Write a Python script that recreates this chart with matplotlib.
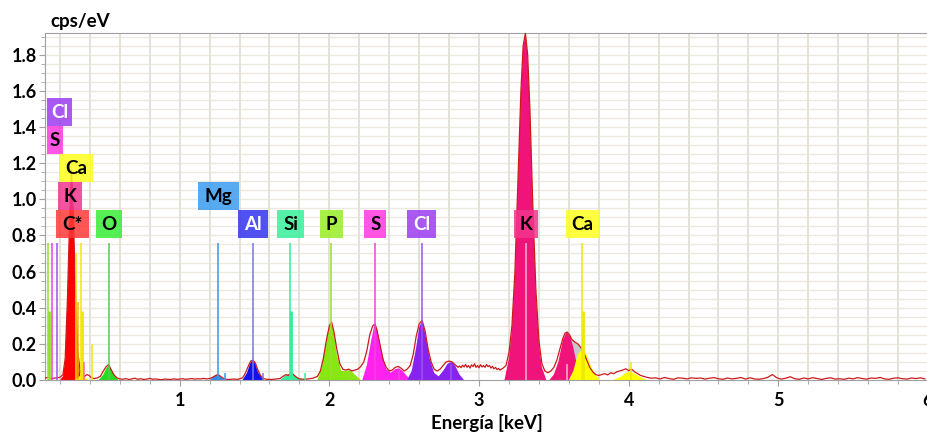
import numpy as np
import matplotlib
matplotlib.use("Agg")
import matplotlib.pyplot as plt
from matplotlib.patches import Rectangle
from matplotlib.ticker import MultipleLocator

plt.rcParams['font.family'] = ['Lato', 'DejaVu Sans']
plt.rcParams['font.weight'] = 'bold'

# -----------------------------------------------------------------------------
# measured spectrum (keV, cps/eV), read off the picture
# -----------------------------------------------------------------------------
spec_e_low = [0.10, 0.12, 0.14, 0.16, 0.18, 0.20, 0.22, 0.235, 0.25, 0.265,
              0.277, 0.29, 0.305, 0.32, 0.335, 0.35, 0.365, 0.38, 0.395, 0.41,
              0.43, 0.45, 0.47, 0.49, 0.51, 0.525, 0.54, 0.56, 0.58, 0.60]
spec_y_low = [0.010, 0.015, 0.008, 0.010, 0.012, 0.015, 0.03, 0.12, 0.45, 0.90,
              1.16, 0.90, 0.45, 0.15, 0.05, 0.03, 0.02, 0.03, 0.025, 0.012,
              0.008, 0.012, 0.02, 0.05, 0.075, 0.085, 0.06, 0.03, 0.012, 0.006]

# flat region 0.62 - 1.18 keV, 0.02 keV steps
spec_y_flat = [0.004, 0.008, 0.003, 0.006, 0.010, 0.004, 0.007, 0.003, 0.005,
               0.009, 0.004, 0.006, 0.003, 0.002, 0.005, 0.004, 0.003, 0.006,
               0.004, 0.005, 0.007, 0.004, 0.006, 0.008, 0.005, 0.007, 0.006,
               0.009, 0.006]

spec_e_mid = [1.20, 1.22, 1.24, 1.255, 1.27, 1.29, 1.31, 1.33, 1.36, 1.39,
              1.42, 1.44, 1.46, 1.475, 1.49, 1.505, 1.52, 1.54, 1.56, 1.58,
              1.61, 1.64, 1.67, 1.69, 1.71, 1.725, 1.745, 1.76, 1.78, 1.80,
              1.83, 1.86, 1.89,
              1.92, 1.94, 1.96, 1.98, 2.00, 2.015, 2.03, 2.05, 2.07, 2.09,
              2.11, 2.13, 2.15, 2.17, 2.19, 2.21, 2.23, 2.25, 2.27, 2.29,
              2.305, 2.32, 2.34, 2.36, 2.38, 2.40, 2.42, 2.44, 2.46, 2.48,
              2.50, 2.52, 2.54, 2.56, 2.58, 2.60, 2.62, 2.64, 2.66, 2.68,
              2.70, 2.72, 2.74, 2.76, 2.78, 2.80, 2.82, 2.84, 2.86, 2.87,
              2.88, 2.89, 2.90, 2.91, 2.92, 2.93, 2.94, 2.95, 2.96, 2.97,
              2.98, 2.99, 3.00, 3.01, 3.02, 3.03, 3.04, 3.05, 3.06, 3.07,
              3.08, 3.09, 3.10, 3.11, 3.12, 3.13, 3.14, 3.16, 3.18,
              3.20, 3.22, 3.24, 3.26, 3.28, 3.295, 3.31, 3.325, 3.34, 3.36,
              3.38, 3.40, 3.42, 3.44, 3.46, 3.48, 3.50, 3.52, 3.54, 3.56,
              3.575, 3.59, 3.605, 3.62, 3.64, 3.66, 3.68, 3.70, 3.72, 3.74,
              3.76, 3.78, 3.80, 3.82, 3.84, 3.86, 3.88, 3.90, 3.92, 3.94,
              3.96, 3.98, 4.00, 4.02, 4.04, 4.06, 4.08, 4.10]
spec_y_mid = [0.008, 0.015, 0.025, 0.03, 0.022, 0.01, 0.004, 0.003, 0.005, 0.004,
              0.012, 0.04, 0.08, 0.105, 0.11, 0.095, 0.06, 0.025, 0.008, 0.004,
              0.003, 0.005, 0.008, 0.02, 0.03, 0.025, 0.04, 0.03, 0.015, 0.006,
              0.004, 0.006, 0.01,
              0.02, 0.05, 0.12, 0.22, 0.30, 0.32, 0.27, 0.17, 0.09, 0.06,
              0.055, 0.06, 0.05, 0.055, 0.06, 0.075, 0.10, 0.16, 0.25, 0.30,
              0.31, 0.27, 0.19, 0.11, 0.07, 0.05, 0.055, 0.07, 0.075, 0.065,
              0.05, 0.06, 0.08, 0.14, 0.24, 0.31, 0.33, 0.27, 0.17, 0.10,
              0.06, 0.05, 0.06, 0.08, 0.10, 0.105, 0.10, 0.085, 0.07, 0.078,
              0.068, 0.082, 0.072, 0.086, 0.07, 0.08, 0.066, 0.084, 0.074, 0.09,
              0.07, 0.08, 0.068, 0.085, 0.072, 0.08, 0.07, 0.086, 0.074, 0.08,
              0.066, 0.076, 0.062, 0.07, 0.058, 0.064, 0.055, 0.065, 0.08,
              0.15, 0.30, 0.60, 1.10, 1.60, 1.85, 1.92, 1.80, 1.50, 0.95,
              0.50, 0.22, 0.09, 0.05, 0.04, 0.05, 0.07, 0.11, 0.17, 0.23,
              0.26, 0.265, 0.25, 0.225, 0.21, 0.20, 0.18, 0.15, 0.11, 0.07,
              0.045, 0.03, 0.025, 0.03, 0.035, 0.028, 0.04, 0.035, 0.045, 0.05,
              0.055, 0.062, 0.052, 0.06, 0.045, 0.035, 0.025, 0.02]

# tail 4.12 - 6.0 keV, 0.03 keV steps
spec_y_tail = [0.015, 0.010, 0.012, 0.006, 0.014, 0.008, 0.004, 0.012, 0.010,
               0.006, 0.012, 0.009, 0.011, 0.005, 0.010, 0.013, 0.007, 0.004,
               0.011, 0.006, 0.009, 0.014, 0.005, 0.012, 0.006, 0.004, 0.008,
               0.015, 0.030, 0.012, 0.005, 0.010, 0.018, 0.007, 0.004, 0.011,
               0.006, 0.013, 0.008, 0.003, 0.009, 0.012, 0.005, 0.007, 0.004,
               0.010, 0.006, 0.013, 0.008, 0.005, 0.011, 0.009, 0.014, 0.006,
               0.004, 0.010, 0.012, 0.007, 0.005, 0.011, 0.008, 0.012, 0.006]

# -----------------------------------------------------------------------------
# fitted element peaks (keV, cps/eV)
# -----------------------------------------------------------------------------
c_e = [0.20, 0.22, 0.235, 0.25, 0.265, 0.277, 0.29, 0.305, 0.32, 0.335, 0.36]
c_y = [0.0, 0.02, 0.11, 0.44, 0.88, 1.15, 0.88, 0.44, 0.12, 0.03, 0.0]
cal_e = [0.30, 0.33, 0.345, 0.36, 0.39]
cal_y = [0.0, 0.02, 0.03, 0.02, 0.0]
o_e = [0.46, 0.49, 0.51, 0.525, 0.54, 0.56, 0.59]
o_y = [0.0, 0.03, 0.065, 0.08, 0.065, 0.03, 0.0]
mg_e = [1.20, 1.23, 1.25, 1.27, 1.30]
mg_y = [0.0, 0.02, 0.03, 0.02, 0.0]
al_e = [1.42, 1.45, 1.47, 1.487, 1.505, 1.525, 1.56]
al_y = [0.0, 0.04, 0.09, 0.11, 0.09, 0.04, 0.0]
si_e = [1.67, 1.70, 1.72, 1.74, 1.76, 1.79, 1.83]
si_y = [0.0, 0.02, 0.03, 0.038, 0.03, 0.015, 0.0]
p_e = [1.92, 1.95, 1.98, 2.00, 2.013, 2.03, 2.05, 2.08, 2.11, 2.14, 2.17, 2.21]
p_y = [0.0, 0.07, 0.21, 0.30, 0.32, 0.26, 0.14, 0.05, 0.05, 0.055, 0.03, 0.0]
s_e = [2.22, 2.25, 2.28, 2.30, 2.308, 2.32, 2.35, 2.38, 2.41, 2.44, 2.465,
       2.49, 2.52, 2.55]
s_y = [0.0, 0.08, 0.22, 0.30, 0.31, 0.28, 0.15, 0.06, 0.04, 0.06, 0.065,
       0.05, 0.02, 0.0]
cl_e = [2.52, 2.55, 2.58, 2.60, 2.62, 2.64, 2.67, 2.70, 2.73, 2.76, 2.79,
        2.815, 2.84, 2.87, 2.90]
cl_y = [0.0, 0.05, 0.18, 0.29, 0.33, 0.26, 0.12, 0.04, 0.02, 0.05, 0.09,
        0.10, 0.08, 0.03, 0.0]
k_e = [3.17, 3.20, 3.22, 3.24, 3.26, 3.28, 3.295, 3.31, 3.325, 3.34, 3.36,
       3.38, 3.40, 3.42, 3.45]
k_y = [0.0, 0.12, 0.28, 0.58, 1.08, 1.58, 1.84, 1.91, 1.79, 1.49, 0.94,
       0.48, 0.20, 0.07, 0.0]
kb_e = [3.47, 3.50, 3.53, 3.56, 3.585, 3.61, 3.63, 3.65, 3.67, 3.70]
kb_y = [0.0, 0.03, 0.10, 0.22, 0.265, 0.24, 0.18, 0.10, 0.04, 0.0]
ca_e = [3.60, 3.63, 3.66, 3.69, 3.72, 3.75, 3.78, 3.81]
ca_y = [0.0, 0.05, 0.14, 0.175, 0.14, 0.07, 0.025, 0.0]
cab_e = [3.90, 3.95, 3.98, 4.01, 4.04, 4.08, 4.12]
cab_y = [0.0, 0.02, 0.04, 0.045, 0.035, 0.015, 0.0]

# -----------------------------------------------------------------------------
# line markers and labels
# -----------------------------------------------------------------------------
mark_e = [0.120, 0.125, 0.149, 0.183, 0.307, 0.320, 0.341, 0.347, 0.362,
          0.413, 0.525, 1.254, 1.302, 1.487, 1.557, 1.740, 1.742, 1.836,
          2.013, 2.139, 2.307, 2.464, 2.622, 2.815, 3.313, 3.589, 3.690,
          3.692, 4.013]
mark_top = [0.76, 0.38, 0.76, 0.76, 0.70, 0.43, 0.76, 0.38, 0.10,
            0.20, 0.76, 0.76, 0.04, 0.76, 0.04, 0.76, 0.38, 0.04,
            0.76, 0.05, 0.76, 0.06, 0.76, 0.09, 0.76, 0.09, 0.76,
            0.38, 0.10]
mark_el = ['P', 'P', 'S', 'Cl', 'Ca', 'CaL', 'Ca', 'Ca', 'K',
           'Ca', 'O', 'Mg', 'Mg', 'Al', 'Al', 'Si', 'Si', 'Si',
           'P', 'P', 'S', 'S', 'Cl', 'Cl', 'Kline', 'Kline', 'Ca',
           'Ca', 'Ca']

label_txt = ['Cl', 'S', 'Ca', 'K', 'C*', 'O', 'Mg', 'Al', 'Si', 'P', 'S',
             'Cl', 'K', 'Ca']
label_e = [0.197, 0.167, 0.310, 0.267, 0.283, 0.527, 1.257, 1.487, 1.743,
           2.013, 2.307, 2.617, 3.313, 3.690]
label_row = [4, 3, 2, 1, 0, 0, 1, 0, 0, 0, 0, 0, 0, 0]

# styles
fill_col = {'C': '#ff0000', 'O': '#22dd22', 'Mg': '#3388ee', 'Al': '#1111ee',
            'Si': '#33ee99', 'P': '#88e611', 'S': '#ff22ee', 'Cl': '#8822ee',
            'K': '#f0147a', 'Ca': '#ffff00'}
mark_col = {'P': '#99dd33', 'S': '#ee44dd', 'Cl': '#9955ee', 'Ca': '#f0e800',
            'CaL': '#ffaa22', 'K': '#ff66aa', 'O': '#55cc55', 'Mg': '#3399ee',
            'Al': '#7777dd', 'Si': '#33ee99', 'Kline': '#f8b4d4'}
box_col = {'Cl': '#9b3cf0', 'S': '#ff38e0', 'Ca': '#ffff20', 'K': '#f0368e',
           'C*': '#ff3838', 'O': '#38ee38', 'Mg': '#3a9cf0', 'Al': '#3434f0',
           'Si': '#38f09c', 'P': '#98ee26'}
box_w_px = [25, 16, 33, 24, 33, 26, 41, 30, 27, 23, 22, 29, 24, 33]
white_txt = {'Cl', 'Al'}

spec_e = np.concatenate([spec_e_low,
                         0.62 + 0.02 * np.arange(len(spec_y_flat)),
                         spec_e_mid,
                         4.12 + 0.03 * np.arange(len(spec_y_tail))])
spec_y = np.concatenate([spec_y_low, spec_y_flat, spec_y_mid, spec_y_tail])

# -----------------------------------------------------------------------------
# figure
# -----------------------------------------------------------------------------
W, H = 928, 434
fig = plt.figure(figsize=(W / 100, H / 100), dpi=100)
ax = fig.add_axes([45 / W, 1 - 380 / H, (W - 45) / W, 347 / H])
ax.set_xlim(0.10, 6.0)
ax.set_ylim(0, 1.92)

for yv in np.arange(0.05, 1.92, 0.05):
    ax.axhline(yv, color='#ece9e1', lw=1.0, zorder=0)
for xv in np.arange(0.2, 6.0, 0.2):
    ax.axvline(xv, color='#e4e1d8', lw=1.4, zorder=0)

# grey where the fit falls short of the measured counts
gm = (spec_e >= 3.55) & (spec_e <= 3.72)
ax.fill_between(spec_e, 0, spec_y, where=gm, color='#c8c8c8', lw=0, zorder=1)

peaks = [('C', c_e, c_y), ('Ca', cal_e, cal_y), ('O', o_e, o_y),
         ('Mg', mg_e, mg_y), ('Al', al_e, al_y), ('Si', si_e, si_y),
         ('P', p_e, p_y), ('S', s_e, s_y), ('Cl', cl_e, cl_y),
         ('K', k_e, k_y), ('K', kb_e, kb_y), ('Ca', ca_e, ca_y),
         ('Ca', cab_e, cab_y)]
for el, pe, py in peaks:
    ax.fill(pe, py, color=fill_col[el], lw=0, zorder=2)

ax.plot(spec_e, spec_y, color='#cc1a1a', lw=0.9, zorder=3)

for e, t, el in zip(mark_e, mark_top, mark_el):
    lw = 2.0 if abs(t - 0.38) < 0.01 else 1.1
    ax.plot([e, e], [0, t], color=mark_col[el], lw=lw, zorder=4,
            solid_capstyle='butt')

row_h = 28 / 181.0
row_y0 = 0.785
for txt, e, r, wpx in zip(label_txt, label_e, label_row, box_w_px):
    w = wpx / 150.0
    y0 = row_y0 + r * row_h
    ax.add_patch(Rectangle((e - w / 2, y0), w, row_h, facecolor=box_col[txt],
                           edgecolor='none', alpha=0.85, zorder=5))
    ax.text(e, y0 + row_h / 2, txt, ha='center', va='center', fontsize=13.5,
            fontweight='bold', color='white' if txt in white_txt else 'black',
            zorder=6)

ax.xaxis.set_major_locator(MultipleLocator(1))
ax.xaxis.set_minor_locator(MultipleLocator(0.2))
ax.yaxis.set_major_locator(MultipleLocator(0.2))
ax.yaxis.set_minor_locator(MultipleLocator(0.05))
ax.yaxis.set_major_formatter(matplotlib.ticker.FormatStrFormatter('%.1f'))
ax.tick_params(axis='both', which='both', color='#a0a0a0', direction='out')
ax.tick_params(axis='x', which='major', length=4, labelsize=13, pad=5)
ax.tick_params(axis='x', which='minor', length=3)
ax.tick_params(axis='y', which='major', length=4, labelsize=13, pad=2)
ax.tick_params(axis='y', which='minor', length=3)
for lab in ax.get_xticklabels() + ax.get_yticklabels():
    lab.set_fontweight('bold')

for side in ['left', 'top', 'bottom']:
    ax.spines[side].set_color('#a0a0a0')
ax.spines['right'].set_visible(False)

fig.text(50 / W, 1 - 22 / H, 'cps/eV', ha='left', va='center', fontsize=13.5,
         fontweight='bold')
fig.text(486.5 / W, 1 - 423 / H, 'Energía [keV]', ha='center', va='center',
         fontsize=13.5, fontweight='bold')

fig.savefig('out.png', dpi=100)
